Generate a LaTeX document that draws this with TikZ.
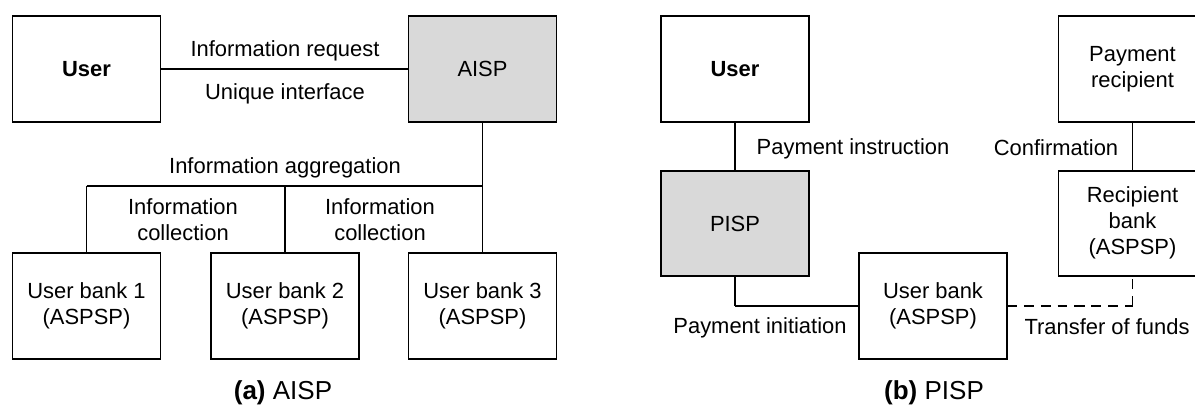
\documentclass[tikz,border=0pt]{standalone}
\usepackage{fontspec}
\setmainfont{Liberation Sans}
\usepackage{tikz-network}
\newcommand{\twolines}[1]{\begin{tabular}{@{}c@{}}#1\end{tabular}}
\tikzset{
  box/.style={minimum width=3.7cm, minimum height=2.63cm},
  lbl/.style={font=\fontsize{15.6}{18.5}\selectfont, align=center, inner sep=0pt},
  caption/.style={font=\fontsize{18.5}{22}\selectfont, inner sep=0pt}
}
\begin{document}
\begin{tikzpicture}

\useasboundingbox (0,0) rectangle (29.875,-10.2);
\clip (0,0) rectangle (29.875,-10.2);

\SetVertexStyle[Shape=rectangle, LineWidth=1.4, FillColor=white, LineColor=black, OuterSep=0, TextFont=\fontsize{15.6}{18.5}\selectfont]
\SetEdgeStyle[Color=black, LineWidth=1.1]

\Vertex[x=2.1625,y=-1.725,style={box},label={\textbf{User}}]{U}
\Vertex[x=12.0625,y=-1.725,style={box},color=black!15,label={AISP}]{A}
\Vertex[x=2.1625,y=-7.65,style={box},label={\twolines{User bank 1\\(ASPSP)}}]{B1}
\Vertex[x=7.125,y=-7.65,style={box},label={\twolines{User bank 2\\(ASPSP)}}]{B2}
\Vertex[x=12.0625,y=-7.65,style={box},label={\twolines{User bank 3\\(ASPSP)}}]{B3}
\coordinate (J1) at (2.1625,-4.65);
\coordinate (J2) at (7.125,-4.65);
\coordinate (J3) at (12.0625,-4.65);

\Edge(U)(A)
\Edge(A)(B3)
\Edge(J1)(J3)
\Edge(J1)(B1)
\Edge(J2)(B2)

\Vertex[x=18.375,y=-1.725,style={box},label={\textbf{User}}]{PU}
\Vertex[x=18.375,y=-5.5875,style={box},color=black!15,label={PISP}]{P}
\Vertex[x=23.325,y=-7.65,style={box},label={\twolines{User bank\\(ASPSP)}}]{PB}
\Vertex[x=28.3125,y=-1.725,style={box},label={\twolines{Payment\\recipient}}]{R}
\Vertex[x=28.3125,y=-5.5875,style={box},label={\twolines{Recipient\\bank\\(ASPSP)}}]{RB}
\coordinate (C1) at (18.375,-7.65);
\coordinate (C2) at (28.3125,-7.65);

\Edge(PU)(P)
\Edge(R)(RB)
\Edge(P)(C1)
\Edge(C1)(PB)
\Edge[style={dash pattern=on 7pt off 5pt}](PB)(C2)
\Edge[style={dash pattern=on 7pt off 5pt}](C2)(RB)

\node[lbl] (req) at (7.125,-1.275) {Information request};
\node[lbl] (uni) at (7.125,-2.35) {Unique interface};
\node[lbl] (agg) at (7.125,-4.2) {Information aggregation};
\node[lbl] (col1) at (4.575,-5.5) {Information\\collection};
\node[lbl] (col2) at (9.5,-5.5) {Information\\collection};
\node[caption] (capa) at (7.075,-9.825) {\textbf{(a)} AISP};

\node[lbl] (ins) at (21.325,-3.725) {Payment instruction};
\node[lbl] (con) at (26.4,-3.7) {Confirmation};
\node[lbl] (ini) at (19.0,-8.2) {Payment initiation};
\node[lbl] (tra) at (27.675,-8.175) {Transfer of funds};
\node[caption] (capb) at (23.35,-9.825) {\textbf{(b)} PISP};

\end{tikzpicture}
\end{document}
